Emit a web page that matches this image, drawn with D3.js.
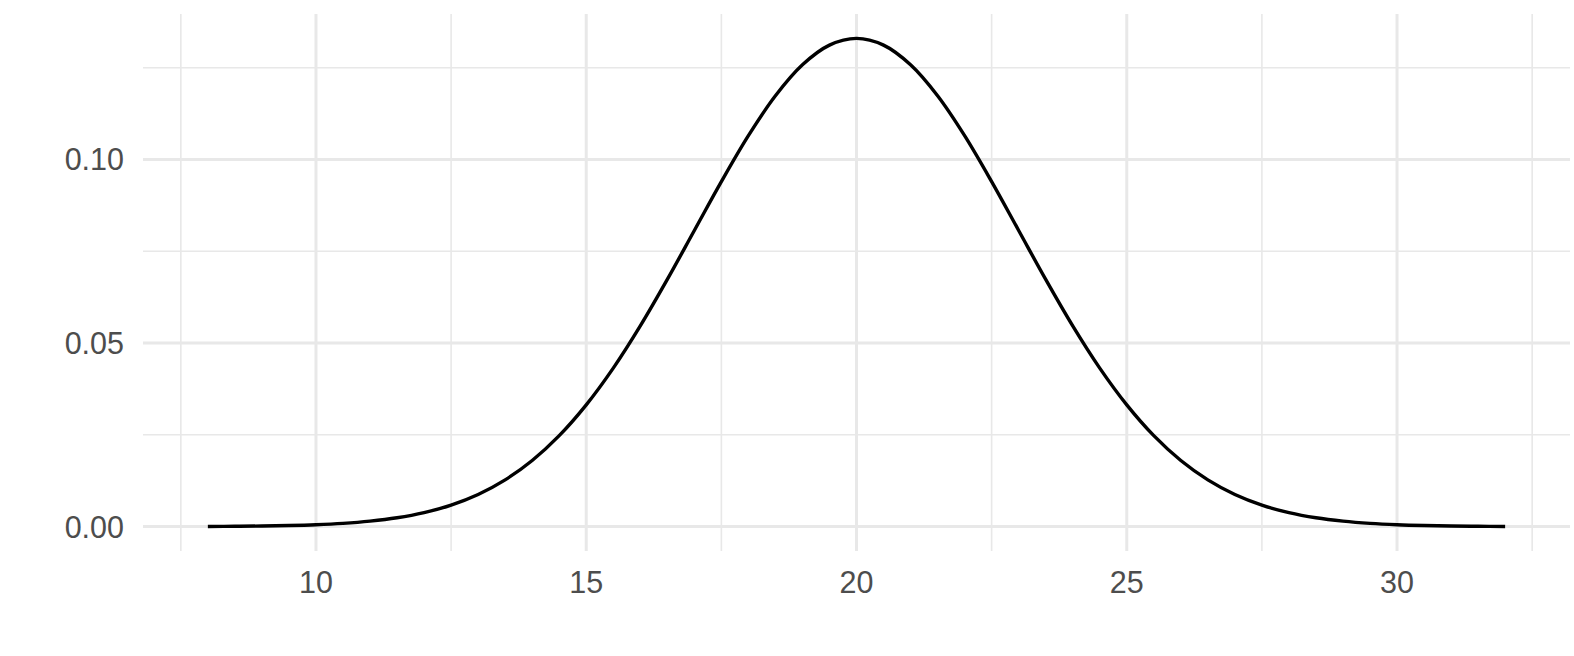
<!DOCTYPE html>
<html>
<head>
<meta charset="utf-8">
<script src="https://cdn.jsdelivr.net/npm/d3@7"></script>
<style>
  html, body { margin: 0; padding: 0; background: #fff; }
  svg { display: block; }
  text { font-family: "Liberation Sans", Arial, sans-serif; }
</style>
</head>
<body>
<svg id="chart" width="1574" height="656"></svg>
<script>
// Density curve values (x from 8 to 32, step 0.5)
const xValues = [8, 8.5, 9, 9.5, 10, 10.5, 11, 11.5, 12, 12.5, 13, 13.5, 14, 14.5, 15, 15.5, 16, 16.5, 17, 17.5, 18, 18.5, 19, 19.5, 20,
  20.5, 21, 21.5, 22, 22.5, 23, 23.5, 24, 24.5, 25, 25.5, 26, 26.5, 27, 27.5, 28, 28.5, 29, 29.5, 30, 30.5, 31, 31.5, 32];
const yValues = [0.00004, 0.00009, 0.00016, 0.00029, 0.00051, 0.00088, 0.00148, 0.00240, 0.00380, 0.00584, 0.00874, 0.01272,
  0.01800, 0.02477, 0.03316, 0.04317, 0.05467, 0.06733, 0.08066, 0.09397, 0.10648, 0.11735, 0.12579, 0.13115, 0.13298,
  0.13115, 0.12579, 0.11735, 0.10648, 0.09397, 0.08066, 0.06733, 0.05467, 0.04317, 0.03316, 0.02477, 0.01800,
  0.01272, 0.00874, 0.00584, 0.00380, 0.00240, 0.00148, 0.00088, 0.00051, 0.00029, 0.00016, 0.00009, 0.00004];
const xTicks = [10, 15, 20, 25, 30];
const xMinorTicks = [7.5, 12.5, 17.5, 22.5, 27.5, 32.5];
const yTicks = [0, 0.05, 0.10];
const yTickLabels = ["0.00", "0.05", "0.10"];
const yMinorTicks = [0.025, 0.075, 0.125];

const svg = d3.select("#chart");
const panel = { left: 143, right: 1570, top: 14, bottom: 551 };

const x = d3.scaleLinear().domain([6.8, 33.2]).range([panel.left, panel.right]);
const y = d3.scaleLinear().domain([-0.00665, 0.13963]).range([panel.bottom, panel.top]);

const grid = svg.append("g");
// minor grid
grid.selectAll("line.vminor").data(xMinorTicks).join("line")
  .attr("x1", d => x(d)).attr("x2", d => x(d))
  .attr("y1", panel.top).attr("y2", panel.bottom)
  .attr("stroke", "#E8E8E8").attr("stroke-width", 1.6);
grid.selectAll("line.hminor").data(yMinorTicks).join("line")
  .attr("y1", d => y(d)).attr("y2", d => y(d))
  .attr("x1", panel.left).attr("x2", panel.right)
  .attr("stroke", "#E8E8E8").attr("stroke-width", 1.6);
// major grid
grid.selectAll("line.vmajor").data(xTicks).join("line")
  .attr("x1", d => x(d)).attr("x2", d => x(d))
  .attr("y1", panel.top).attr("y2", panel.bottom)
  .attr("stroke", "#E8E8E8").attr("stroke-width", 3);
grid.selectAll("line.hmajor").data(yTicks).join("line")
  .attr("y1", d => y(d)).attr("y2", d => y(d))
  .attr("x1", panel.left).attr("x2", panel.right)
  .attr("stroke", "#E8E8E8").attr("stroke-width", 3);

// Curve
const pts = xValues.map((v, i) => [v, yValues[i]]);
const line = d3.line().x(d => x(d[0])).y(d => y(d[1])).curve(d3.curveCatmullRom);
svg.append("path").datum(pts)
  .attr("d", line)
  .attr("fill", "none")
  .attr("stroke", "#000")
  .attr("stroke-width", 3.4)
  .attr("stroke-linejoin", "round");

// Axis labels
svg.append("g").selectAll("text").data(xTicks).join("text")
  .attr("x", d => x(d)).attr("y", 593)
  .attr("text-anchor", "middle")
  .attr("font-size", "30.5px").attr("fill", "#4D4D4D")
  .text(d => d);
svg.append("g").selectAll("text").data(yTicks).join("text")
  .attr("x", 124).attr("y", d => y(d))
  .attr("dy", "0.36em")
  .attr("text-anchor", "end")
  .attr("font-size", "30.5px").attr("fill", "#4D4D4D")
  .text((d, i) => yTickLabels[i]);
</script>
</body>
</html>
